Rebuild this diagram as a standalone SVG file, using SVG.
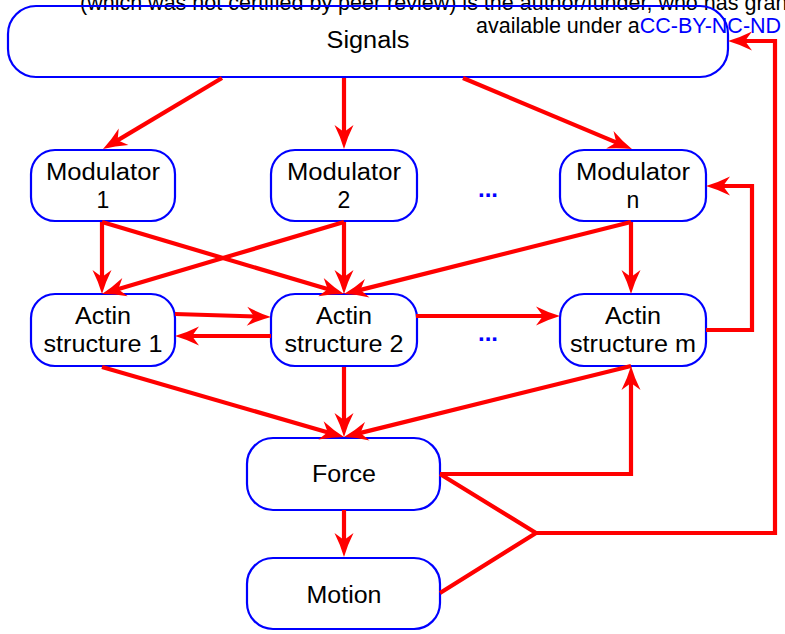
<svg xmlns="http://www.w3.org/2000/svg" width="785" height="634" viewBox="0 0 785 634">
<style>
.box{fill:none;stroke:#0000ff;stroke-width:2.2}
.lbl{font-family:"Liberation Sans",Arial,sans-serif;font-size:23px;fill:#000;text-anchor:middle}
.hdr{font-family:"Liberation Sans",Arial,sans-serif;font-size:21.5px;fill:#000}
.dots{font-family:"Liberation Sans",Arial,sans-serif;font-size:24px;font-weight:bold;fill:#0000ff;text-anchor:middle}
.c{fill:none;stroke:#ff0000;stroke-width:4.2;stroke-linejoin:miter}
.a{marker-end:url(#ah)}
</style>
<defs>
<marker id="ah" markerUnits="userSpaceOnUse" markerWidth="28" markerHeight="22" refX="12" refY="10" orient="auto" viewBox="0 0 28 20" overflow="visible">
<path d="M24,10 Q12,6.5 0,0.5 L7,10 L0,19.5 Q12,13.5 24,10 Z" fill="#ff0000"/>
</marker>
</defs>
<rect width="785" height="634" fill="#fff"/>
<g id="header">
<text class="hdr" x="80" y="10">(which was not certified by peer review) is the author/funder, who has granted</text>
<text class="hdr" x="476" y="33">available under a<tspan fill="#0000ff">CC-BY-NC-ND</tspan></text>
</g>
<g id="signals">
<rect class="box" x="8" y="6" width="720" height="71" rx="28" ry="28"/>
<text class="lbl" x="368" y="48" textLength="83" lengthAdjust="spacingAndGlyphs">Signals</text>
</g>
<g id="mod1">
<rect class="box" x="31" y="150" width="144" height="71" rx="24" ry="24"/>
<text class="lbl" x="103" y="180" textLength="114" lengthAdjust="spacingAndGlyphs">Modulator</text>
<text class="lbl" x="103" y="208">1</text>
</g>
<g id="mod2">
<rect class="box" x="271" y="150" width="146" height="71" rx="24" ry="24"/>
<text class="lbl" x="344" y="180" textLength="114" lengthAdjust="spacingAndGlyphs">Modulator</text>
<text class="lbl" x="344" y="208">2</text>
</g>
<g id="modn">
<rect class="box" x="560" y="150" width="146" height="71" rx="24" ry="24"/>
<text class="lbl" x="633" y="180" textLength="114" lengthAdjust="spacingAndGlyphs">Modulator</text>
<text class="lbl" x="633" y="208">n</text>
</g>
<g id="actin1">
<rect class="box" x="31" y="294" width="144" height="72" rx="24" ry="24"/>
<text class="lbl" x="103" y="324" textLength="56" lengthAdjust="spacingAndGlyphs">Actin</text>
<text class="lbl" x="103" y="352" textLength="119" lengthAdjust="spacingAndGlyphs">structure 1</text>
</g>
<g id="actin2">
<rect class="box" x="271" y="294" width="146" height="72" rx="24" ry="24"/>
<text class="lbl" x="344" y="324" textLength="56" lengthAdjust="spacingAndGlyphs">Actin</text>
<text class="lbl" x="344" y="352" textLength="119" lengthAdjust="spacingAndGlyphs">structure 2</text>
</g>
<g id="actinm">
<rect class="box" x="560" y="294" width="146" height="72" rx="24" ry="24"/>
<text class="lbl" x="633" y="324" textLength="56" lengthAdjust="spacingAndGlyphs">Actin</text>
<text class="lbl" x="633" y="352" textLength="126" lengthAdjust="spacingAndGlyphs">structure m</text>
</g>
<g id="force">
<rect class="box" x="247" y="438" width="193" height="72" rx="26" ry="26"/>
<text class="lbl" x="344" y="482" textLength="64" lengthAdjust="spacingAndGlyphs">Force</text>
</g>
<g id="motion">
<rect class="box" x="247" y="558" width="193" height="71" rx="26" ry="26"/>
<text class="lbl" x="344" y="603" textLength="75" lengthAdjust="spacingAndGlyphs">Motion</text>
</g>
<g id="ellipses">
<text class="dots" x="488" y="197">...</text>
<text class="dots" x="488" y="341">...</text>
</g>
<g id="connectors">
<path class="c a" d="M222,78 L113.3,142.9"/>
<path class="c a" d="M344,78 L344,137"/>
<path class="c a" d="M463,78 L620.9,144.4"/>
<path class="c a" d="M102,222 L102,282"/>
<path class="c a" d="M102,222 L332.5,290.6"/>
<path class="c a" d="M344,222 L113.5,290.6"/>
<path class="c a" d="M344,222 L344,282"/>
<path class="c a" d="M631,222 L355.6,291.1"/>
<path class="c a" d="M631,222 L631,282"/>
<path class="c a" d="M175,314 L259,316.6"/>
<path class="c a" d="M271,336 L187,336"/>
<path class="c a" d="M416,316 L548,316"/>
<path class="c a" d="M706,330 L752,330 L752,186 L718,186"/>
<path class="c a" d="M102,367 L332.5,433.7"/>
<path class="c a" d="M344,367 L344,425"/>
<path class="c a" d="M631,366 L355.6,434.1"/>
<path class="c a" d="M440,474 L631,474 L631,378"/>
<path class="c" d="M440,474 L536,533 L440,593"/>
<path class="c a" d="M536,533 L775,533 L775,41 L740,41"/>
<path class="c a" d="M344,510 L344,545"/>
</g>
</svg>
